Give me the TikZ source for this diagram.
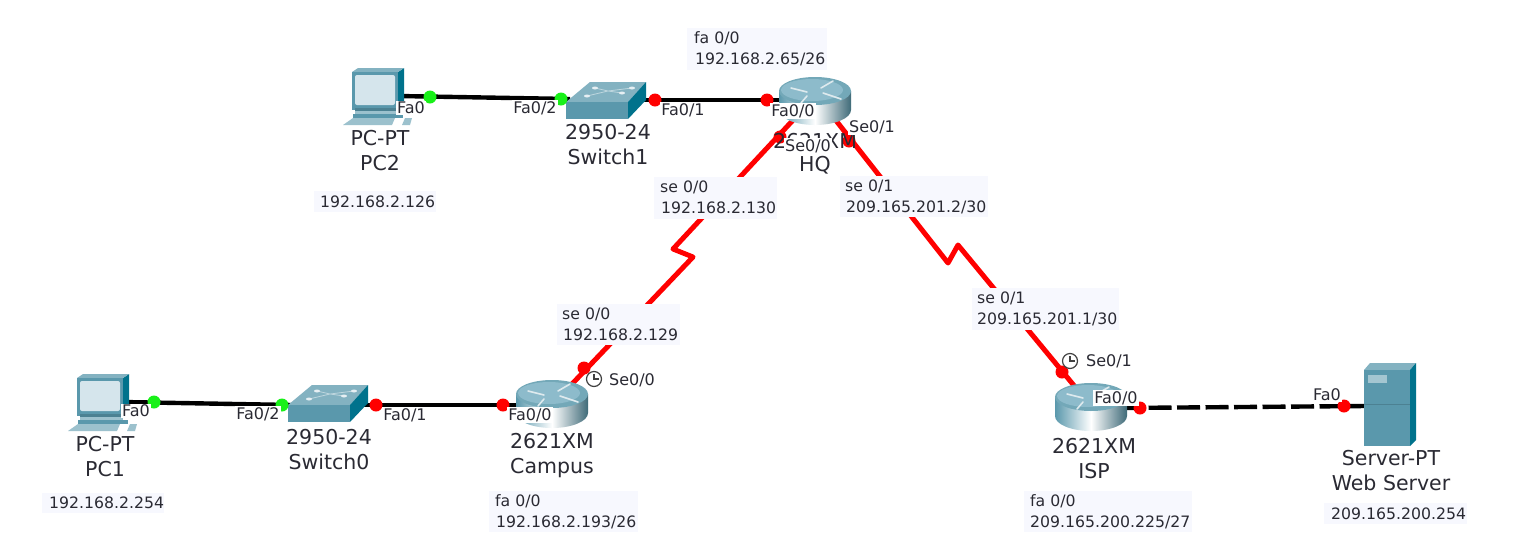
\documentclass[tikz,border=0pt]{standalone}
\usepackage{fontspec}
\setmainfont{DejaVu Sans}
\definecolor{linkred}{HTML}{FF0000}
\definecolor{tagbg}{HTML}{F7F8FE}
\definecolor{txt}{HTML}{2A2A33}
\definecolor{teal}{HTML}{5A98AC}
\definecolor{tealdark}{HTML}{00728C}
\definecolor{teallight}{HTML}{8DBBCB}
\definecolor{screen}{HTML}{D5E5EC}
\definecolor{litegreen}{HTML}{19F019}
\tikzset{
  x=1pt,y=-1pt,
  wire/.style={line width=4.4pt,black},
  serial/.style={line width=5pt,linkred,line join=round},
  straightwire/.style={wire,dash pattern=on 23pt off 5.5pt},
  greendot/.style={circle,fill=litegreen,inner sep=0pt,minimum size=13pt},
  reddot/.style={circle,fill=linkred,inner sep=0pt,minimum size=13pt},
  devlabel/.style={font=\fontsize{20.5}{25}\selectfont,text=txt,align=center,inner sep=0pt},
  port/.style={font=\fontsize{16}{18}\selectfont,text=txt,fill=white,inner sep=1.2pt},
  portclear/.style={font=\fontsize{16}{18}\selectfont,text=txt,inner sep=0pt},
  tagtext/.style={font=\fontsize{15.7}{21}\selectfont,text=txt,align=left,inner sep=0pt,anchor=west},
  pcpic/.pic={
    \fill[tealdark] (46,4) -- (52,0) -- (52,36) -- (46,42) -- cycle;
    \fill[teal!75!white] (0,4) -- (6,0) -- (52,0) -- (46,4) -- cycle;
    \fill[teal] (0,4) rectangle (46,42);
    \fill[screen] (3,7) [rounded corners=2pt] rectangle (43,37);
    \fill[teal!85!black] (3,40) rectangle (46,43);
    \fill[teal!60!white] (3,43) rectangle (46,46);
    \fill[teal] (1,46) rectangle (51,50);
    \fill[teal!60!white] (-9,57) -- (1,50) -- (43,50) -- (40,57) -- cycle;
    \fill[teal!60!white] (50,57) -- (53,50) -- (60,50) -- (58,57) -- cycle;
  },
  switchpic/.pic={
    \fill[teal!75!white] (0,20) -- (24,0) -- (80,0) -- (62,20) -- cycle;
    \fill[teal] (0,20) rectangle (62,37);
    \fill[tealdark] (62,20) -- (80,0) -- (80,18) -- (62,37) -- cycle;
    \draw[white!60!teal,line width=.8pt] (21,14) -- (42,9) -- (56,11) (29,6) -- (42,9) -- (66,6);
    \foreach \px/\py in {29/6,66/6,56/11,21/14}{\fill[white!85!teal] (\px,\py) ellipse (3pt and 1.5pt);}
  },
  routerpic/.pic={
    \shade[left color=teal,right color=teal!70!black,middle color=white]
      (-36,0) -- (-36,19) arc[start angle=180,end angle=360,x radius=36pt,y radius=15pt] -- (36,0) -- cycle;
    \fill[teal!85!white] (0,0) ellipse (36pt and 14pt);
    \fill[teallight] (-3,-1) ellipse (31pt and 11pt);
    \draw[white!80!teal,line width=1.6pt,line cap=round]
      (-24,-3) -- (-8,1) (6,-3) -- (18,-10) (8,2) -- (26,8) (-8,5) -- (-14,12);
  },
  serverpic/.pic={
    \fill[teal!75!white] (0,7) -- (6,0) -- (52,0) -- (46,7) -- cycle;
    \fill[teal] (0,7) rectangle (46,83);
    \fill[tealdark] (46,7) -- (52,0) -- (52,77) -- (46,83) -- cycle;
    \fill[teal!55!white] (4,12) rectangle (23,20);
    \draw[teal!85!black,line width=.5pt] (0,41) -- (46,41);
  },
  clockpic/.pic={
    \draw[fill=white,line width=1.2pt,draw=black!75] (0,0) circle (7.5pt);
    \draw[line width=1.1pt,draw=black!75] (0,-5) -- (0,0) -- (5,0);
  }
}
\begin{document}
\begin{tikzpicture}
\useasboundingbox (0,0) rectangle (1518,555);
\fill[white] (0,0) rectangle (1518,555);

% anchors on the devices
\coordinate (pc2c) at (398,96);
\coordinate (sw1l) at (570,99);
\coordinate (sw1r) at (640,100);
\coordinate (hqw) at (790,100);
\coordinate (hqsl) at (795,118);
\coordinate (hqsr) at (834,118);
\coordinate (pc1c) at (122,402);
\coordinate (sw0l) at (292,405);
\coordinate (sw0r) at (362,405);
\coordinate (camw) at (525,405);
\coordinate (camse) at (572,384);
\coordinate (ispse) at (1076,388);
\coordinate (ispe) at (1120,408);
\coordinate (srvw) at (1366,406);
\coordinate (kl1) at (673,249);
\coordinate (kl2) at (693,257);
\coordinate (kr1) at (948,263);
\coordinate (kr2) at (958,245);

% links
\draw[wire] (pc2c) -- (sw1l);
\draw[wire] (sw1r) -- (hqw);
\draw[wire] (pc1c) -- (sw0l);
\draw[wire] (sw0r) -- (camw);
\draw[serial] (hqsl) -- (kl1) -- (kl2) -- (camse);
\draw[serial] (hqsr) -- (kr1) -- (kr2) -- (ispse);
\draw[straightwire] (ispe) -- (srvw);

% devices
\pic at (352,68) {pcpic};
\pic at (566,82) {switchpic};
\pic at (815,91) {routerpic};
\pic at (77,374) {pcpic};
\pic at (288,385) {switchpic};
\pic at (552,394) {routerpic};
\pic at (1091,397) {routerpic};
\pic at (1364,363) {serverpic};

% port lights
\node[greendot] (d1) at (430,97) {};
\node[greendot] (d2) at (561,99) {};
\node[reddot] (d3) at (655,100) {};
\node[reddot] (d4) at (767,100) {};
\node[reddot] (d5) at (780,137) {};
\node[reddot] (d6) at (849,141) {};
\node[greendot] (d7) at (154,402) {};
\node[greendot] (d8) at (282,405) {};
\node[reddot] (d9) at (376,405) {};
\node[reddot] (d10) at (503,405) {};
\node[reddot] (d11) at (584,368) {};
\node[reddot] (d12) at (1062,372) {};
\node[reddot] (d13) at (1140,408) {};
\node[reddot] (d14) at (1344,406) {};

% device labels
\node[devlabel] (hqmodel) at (815,141) {2621XM};
\node[devlabel] (pc2l) at (380,151) {PC-PT\\PC2};
\node[devlabel] (sw1n) at (608,145) {2950-24\\Switch1};
\node[devlabel] (hqn) at (815,165) {HQ};
\node[devlabel] (pc1l) at (105,457) {PC-PT\\PC1};
\node[devlabel] (sw0n) at (329,450) {2950-24\\Switch0};
\node[devlabel] (camn) at (552,456) {2621XM\\Campus};
\node[devlabel] (ispn) at (1094,459) {2621XM\\ISP};
\node[devlabel] (srvn) at (1391,471) {Server-PT\\Web Server};

% port labels
\node[port] (p1) at (411,108) {Fa0};
\node[port] (p2) at (535,108) {Fa0/2};
\node[port] (p3) at (683,110) {Fa0/1};
\node[port] (p4) at (793,111) {Fa0/0};
\node[port] (p5) at (808,146) {Se0/0};
\node[port] (p6) at (872,127) {Se0/1};
\node[port] (p7) at (136,411) {Fa0};
\node[port] (p8) at (258,414) {Fa0/2};
\node[port] (p9) at (405,415) {Fa0/1};
\node[port] (p10) at (530,415) {Fa0/0};
\node[portclear] (p11) at (632,380) {Se0/0};
\node[port] (p12) at (1116,398) {Fa0/0};
\node[portclear] (p13) at (1109,361) {Se0/1};
\node[port] (p14) at (1327,395) {Fa0};

% clocks
\pic at (594,379) {clockpic};
\pic at (1070,361) {clockpic};

% address tags
\fill[tagbg] (687,28) rectangle (827,70);
\node[tagtext] (t1a) at (694,38) {fa 0/0};
\node[tagtext] (t1b) at (695,59) {192.168.2.65/26};
\fill[tagbg] (654,177) rectangle (777,219);
\node[tagtext] (t2a) at (660,187) {se 0/0};
\node[tagtext] (t2b) at (661,208) {192.168.2.130};
\fill[tagbg] (840,176) rectangle (988,217);
\node[tagtext] (t3a) at (845,186) {se 0/1};
\node[tagtext] (t3b) at (846,207) {209.165.201.2/30};
\fill[tagbg] (557,304) rectangle (680,345);
\node[tagtext] (t4a) at (562,314) {se 0/0};
\node[tagtext] (t4b) at (563,335) {192.168.2.129};
\fill[tagbg] (972,288) rectangle (1119,330);
\node[tagtext] (t5a) at (977,298) {se 0/1};
\node[tagtext] (t5b) at (977,319) {209.165.201.1/30};
\fill[tagbg] (489,491) rectangle (638,532);
\node[tagtext] (t6a) at (495,501) {fa 0/0};
\node[tagtext] (t6b) at (496,522) {192.168.2.193/26};
\fill[tagbg] (1024,491) rectangle (1192,532);
\node[tagtext] (t7a) at (1030,501) {fa 0/0};
\node[tagtext] (t7b) at (1030,522) {209.165.200.225/27};
\fill[tagbg] (1324,503) rectangle (1467,524);
\node[tagtext] (t8) at (1331,514) {209.165.200.254};
\fill[tagbg] (314,191) rectangle (436,212);
\node[tagtext] (t9) at (320,202) {192.168.2.126};
\fill[tagbg] (42,493) rectangle (164,513);
\node[tagtext] (t10) at (49,503) {192.168.2.254};
\end{tikzpicture}
\end{document}
